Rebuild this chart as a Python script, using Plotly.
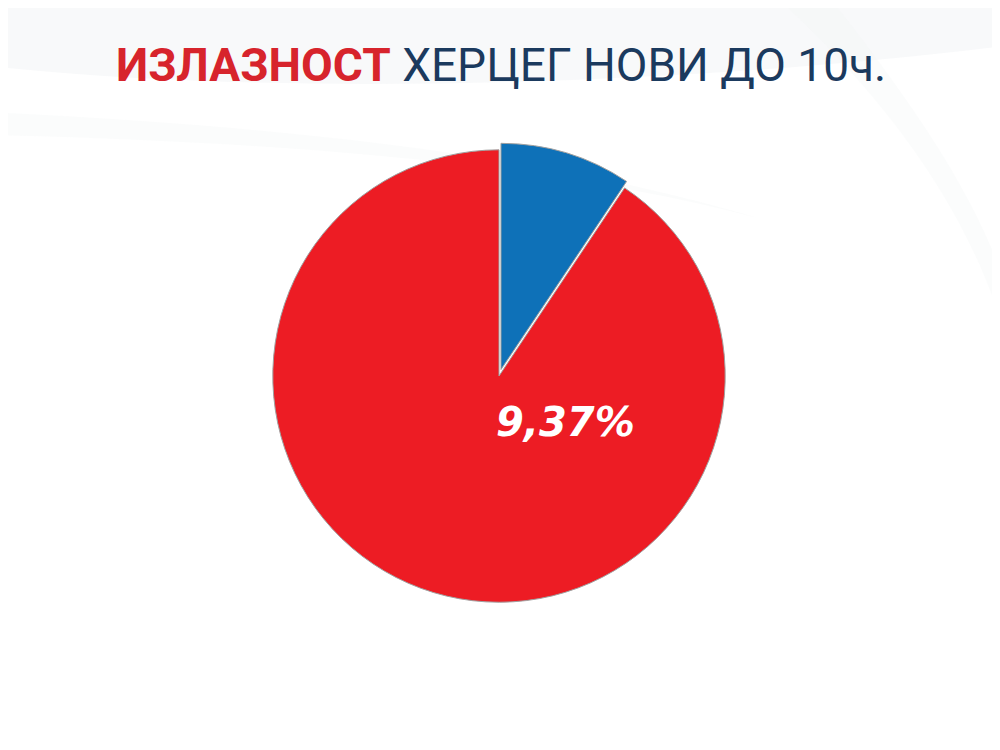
import plotly.graph_objects as go

labels = ["Изашло", "Није изашло"]
values = [9.37, 90.63]
colors = ["#0E71B8", "#ED1C24"]
pulls = [0.03, 0.0]
title_bold = "ИЗЛАЗНОСТ"
title_rest = "ХЕРЦЕГ НОВИ ДО 10ч."

label_text = f"{values[0]:.2f}".replace(".", ",") + "%"

fig = go.Figure()
fig.add_trace(go.Pie(
    labels=labels,
    values=values,
    sort=False,
    direction="clockwise",
    rotation=0,
    pull=pulls,
    marker=dict(colors=colors, line=dict(color="#a0a0a0", width=1)),
    textinfo="none",
    hoverinfo="label+percent",
    showlegend=False,
    domain=dict(x=[0.258, 0.724], y=[0.1986, 0.8200]),
))

fig.add_annotation(
    x=0.557, y=1 - 414 / 750, xref="paper", yref="paper",
    text=f"<b><i>{label_text}</i></b>",
    showarrow=False,
    font=dict(family="DejaVu Sans, sans-serif", size=40, color="white"),
    xanchor="center", yanchor="middle",
)

fig.add_annotation(
    x=0.493, y=1 - 57 / 750, xref="paper", yref="paper",
    text=f"<span style='color:#D7242C'><b>{title_bold}</b></span> <span style='color:#1B3A5E'>{title_rest}</span>",
    showarrow=False,
    font=dict(family="Roboto, Open Sans, sans-serif", size=46),
    xanchor="center", yanchor="middle",
)

# faint background swooshes
fig.add_shape(type="path", xref="paper", yref="paper", layer="below",
              path="M 0 1 L 1 1 L 1 0.95 C 0.7 0.90, 0.3 0.88, 0 0.92 Z",
              fillcolor="rgba(240,242,244,0.45)", line=dict(width=0))
fig.add_shape(type="path", xref="paper", yref="paper", layer="below",
              path="M 0 0.86 C 0.3 0.84, 0.55 0.80, 0.75 0.72 C 0.55 0.79, 0.3 0.82, 0 0.83 Z",
              fillcolor="rgba(242,244,246,0.3)", line=dict(width=0))
fig.add_shape(type="path", xref="paper", yref="paper", layer="below",
              path="M 0.78 1 C 0.9 0.85, 0.97 0.7, 1 0.55 L 1 0.62 C 0.97 0.75, 0.9 0.88, 0.83 1 Z",
              fillcolor="rgba(242,244,246,0.3)", line=dict(width=0))

fig.update_layout(
    width=1000, height=750,
    margin=dict(l=0, r=0, t=0, b=0),
    paper_bgcolor="white",
    plot_bgcolor="white",
)

fig.write_html("out.html")
